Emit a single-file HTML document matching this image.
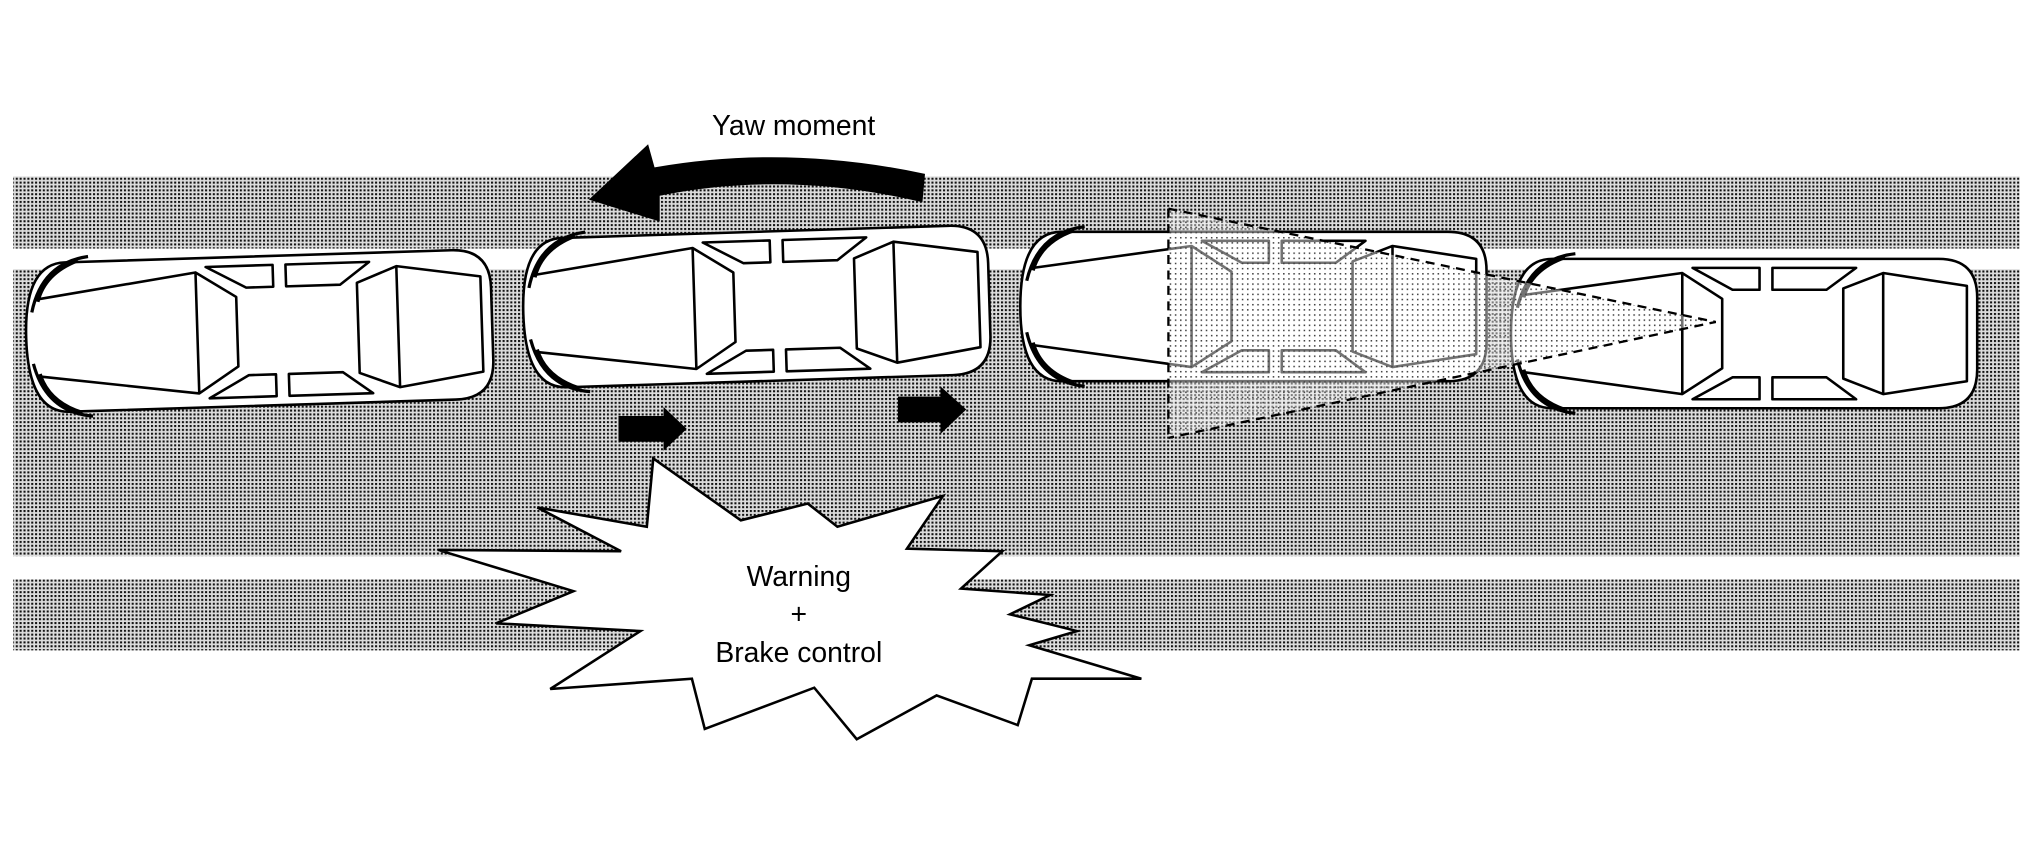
<!DOCTYPE html>
<html><head><meta charset="utf-8"><style>
html,body{margin:0;padding:0;background:#fff;width:2020px;height:850px;overflow:hidden}
svg{display:block}
text{font-family:"Liberation Sans",sans-serif;font-size:22px;fill:#000}
</style></head><body>
<svg width="2020" height="850" viewBox="0 0 1568 660" xmlns="http://www.w3.org/2000/svg">
<defs>
<pattern id="dots" width="3" height="3" patternUnits="userSpaceOnUse">
<rect width="3" height="3" fill="#dcdcdc"/><rect x="0" y="0" width="1.6" height="1.6" fill="#111"/>
</pattern>
<pattern id="light" width="4" height="4" patternUnits="userSpaceOnUse">
<rect width="4" height="4" fill="#fff" fill-opacity="0.45"/><rect x="0" y="0" width="1.2" height="1.2" fill="#444"/>
</pattern>
<g id="car" fill="none" stroke="#000" stroke-width="2" stroke-linejoin="round">
<path d="M -150,-58 L 150,-58 Q 180,-58 180,-28 L 180,28 Q 180,58 150,58 L -150,58 Q -182,58 -182,0 Q -182,-58 -150,-58 Z" fill="#fff"/>
<path d="M -132,-62 Q -168,-58 -177,-20 M -140,-59 Q -166,-50 -172,-28 M -132,62 Q -168,58 -177,20 M -140,59 Q -166,50 -172,28" stroke-width="2.5"/>
<path d="M -172,-30 L -49,-47 L -18,-27 L -18,27 L -49,47 L -172,30 M -49,-47 L -49,47"/>
<path d="M -41,-51 L 11,-51 L 11,-34 L -10,-34 Z M 21,-51 L 86,-51 L 63,-34 L 21,-34 Z"/>
<path d="M -41,51 L 11,51 L 11,34 L -10,34 Z M 21,51 L 86,51 L 63,34 L 21,34 Z"/>
<path d="M 107,-47 L 76,-35 L 76,35 L 107,47 L 172,37 L 172,-37 Z M 107,-47 L 107,47"/>
</g>
</defs>
<rect x="10" y="137" width="1558" height="56" fill="url(#dots)"/>
<rect x="10" y="209" width="1558" height="223" fill="url(#dots)"/>
<rect x="10" y="450" width="1558" height="55" fill="url(#dots)"/>

<use href="#car" transform="translate(202,257) rotate(-1.8)"/>
<use href="#car" transform="translate(588,238) rotate(-1.8)"/>
<use href="#car" transform="translate(974,238)"/>
<use href="#car" transform="translate(1355,259)"/>

<polygon points="907,162 1332,250 907,340" fill="url(#light)"/>
<path d="M 907,162 L 907,340 M 907,162 L 1332,250 L 907,340" fill="none" stroke="#000" stroke-width="1.8" stroke-dasharray="7,5"/>

<path d="M 718,135 Q 610,112 508,130 L 503,112 L 457,155 L 512,172 L 512,152 Q 610,132 716,157 Z" fill="#000"/>
<text x="616" y="105" text-anchor="middle">Yaw moment</text>

<path d="M 480,323 L 515,323 L 515,316 L 533,333 L 515,350 L 515,343 L 480,343 Z" fill="#000"/>
<path d="M 697,308 L 730,308 L 730,300 L 750,318 L 730,337 L 730,328 L 697,328 Z" fill="#000"/>

<polygon points="507,356 575,404 627,391 650,409 732,385 704,426 778,428 746,457 815,462 784,477 836,490 799,501 886,527 801,527 790,563 727,540 665,574 632,534 547,566 537,527 427,535 497,490 385,484 445,459 340,427 482,428 417,394 502,409" fill="#fff" stroke="#000" stroke-width="2" stroke-linejoin="miter"/>
<text x="620" y="455" text-anchor="middle">Warning</text>
<text x="620" y="484" text-anchor="middle">+</text>
<text x="620" y="514" text-anchor="middle">Brake control</text>
</svg>
</body></html>
